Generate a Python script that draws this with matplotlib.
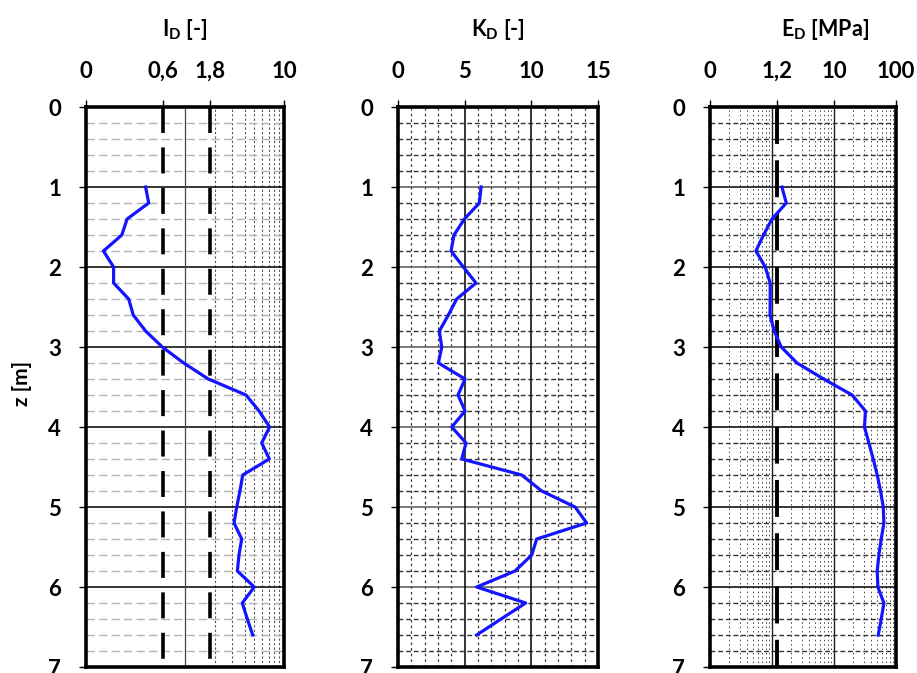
import matplotlib
matplotlib.use('Agg')
import matplotlib.pyplot as plt
from matplotlib.ticker import FixedLocator, NullFormatter

plt.rcParams['font.family'] = ['Lato', 'DejaVu Sans']
plt.rcParams['font.weight'] = 'bold'
plt.rcParams['mathtext.fontset'] = 'custom'
plt.rcParams['mathtext.rm'] = 'Lato:bold'
plt.rcParams['mathtext.bf'] = 'Lato:bold'

# depth of each reading [m]
depth = [1.0, 1.2, 1.4, 1.6, 1.8, 2.0, 2.2, 2.4, 2.6, 2.8,
         3.0, 3.2, 3.4, 3.6, 3.8, 4.0, 4.2, 4.4, 4.6, 4.8,
         5.0, 5.2, 5.4, 5.6, 5.8, 6.0, 6.2, 6.4, 6.6]

# material index
I_D = [0.40, 0.43, 0.26, 0.23, 0.15, 0.19, 0.19, 0.27, 0.30, 0.40,
       0.59, 0.97, 1.72, 4.13, 5.6, 7.15, 5.95, 7.11, 3.83, 3.59,
       3.33, 3.13, 3.74, 3.51, 3.38, 5.01, 3.79, 4.26, 4.83]

# horizontal stress index
K_D = [6.23, 6.1, 4.98, 4.2, 3.98, 4.9, 5.85, 4.4, 3.78, 3.1,
       3.28, 3.03, 5.03, 4.5, 5.03, 4.03, 5.1, 4.78, 9.28, 10.78,
       13.28, 14.15, 10.4, 10.03, 8.78, 5.9, 9.58, 7.73, 5.9]

# dilatometer modulus [MPa]
E_D = [1.445, 1.70, 1.0, 0.73, 0.55, 0.78, 0.935, 0.935, 0.93, 1.086,
       1.41, 2.53, 6.81, 19.6, 32.2, 31.0, 36.5, 42.9, 49.8, 56.3,
       62.3, 63.8, 57.8, 52.9, 49.8, 51.0, 63.8, 57.8, 51.7]

# limits / thresholds
ID_lines = [0.6, 1.8]
ED_line = 1.2

ID_ticks = [0.1, 0.6, 1.8, 10]
ID_labels = ['0', '0,6', '1,8', '10']
KD_ticks = [0, 5, 10, 15]
KD_labels = ['0', '5', '10', '15']
ED_ticks = [0.1, 1.2, 10, 100]
ED_labels = ['0', '1,2', '10', '100']
z_ticks = [0, 1, 2, 3, 4, 5, 6, 7]
z_minor = [0.2, 0.4, 0.6, 0.8, 1.2, 1.4, 1.6, 1.8, 2.2, 2.4, 2.6, 2.8,
           3.2, 3.4, 3.6, 3.8, 4.2, 4.4, 4.6, 4.8, 5.2, 5.4, 5.6, 5.8,
           6.2, 6.4, 6.6, 6.8]

fig = plt.figure(figsize=(9.17, 6.73), dpi=100)
W, H = 917.0, 673.0
bot = (H - 667) / H
hgt = 560 / H
ax1 = fig.add_axes([86 / W, bot, 198 / W, hgt])
ax2 = fig.add_axes([398 / W, bot, 200 / W, hgt])
ax3 = fig.add_axes([710 / W, bot, 186 / W, hgt])


def common(ax, hcol, hls, majcol):
    ax.set_ylim(7, 0)
    ax.set_yticks(z_ticks)
    ax.yaxis.set_minor_locator(FixedLocator(z_minor))
    ax.xaxis.tick_top()
    ax.tick_params(axis='x', which='major', direction='out', length=5,
                   width=1, pad=13, labelsize=16)
    ax.tick_params(axis='y', which='major', direction='out', length=5,
                   width=1, pad=13, labelsize=16)
    ax.tick_params(which='minor', length=0)
    ax.grid(which='minor', axis='y', color=hcol, linestyle=hls, linewidth=1.0)
    ax.grid(which='major', axis='y', color=majcol, linestyle='-', linewidth=1.1)
    ax.set_axisbelow(True)
    for s in ax.spines.values():
        s.set_linewidth(2.6)
        s.set_zorder(5)


# ---- I_D
common(ax1, '#b4b4b4', (0, (6, 3)), 'black')
ax1.set_xscale('log')
ax1.set_xlim(0.1, 10)
ax1.set_xticks(ID_ticks)
ax1.set_xticklabels(ID_labels)
ax1.xaxis.set_minor_locator(FixedLocator([2, 3, 4, 5, 6, 7, 8, 9]))
ax1.xaxis.set_minor_formatter(NullFormatter())
ax1.grid(which='minor', axis='x', color='#555555', linestyle=(0, (2, 2)), linewidth=0.8)
ax1.axvline(1, color='#444444', linewidth=0.9, zorder=1)
for v in ID_lines:
    ax1.plot([v, v], [0, 7], color='black', linewidth=2.6,
             linestyle=(0, (7.2, 4.0)), zorder=3)
ax1.plot(I_D, depth, color='#1414ff', linewidth=2.3, zorder=4)

# ---- K_D
common(ax2, '#333333', (0, (3.5, 2)), '#555555')
ax2.set_xlim(0, 15)
ax2.set_xticks(KD_ticks)
ax2.set_xticklabels(KD_labels)
ax2.xaxis.set_minor_locator(FixedLocator([1, 2, 3, 4, 6, 7, 8, 9, 11, 12, 13, 14]))
ax2.grid(which='minor', axis='x', color='#333333', linestyle=(0, (2, 2.5)), linewidth=0.9)
ax2.axvline(5, color='black', linewidth=1.1, zorder=1)
ax2.axvline(10, color='black', linewidth=1.1, zorder=1)
ax2.plot(K_D, depth, color='#1414ff', linewidth=2.3, zorder=4)

# ---- E_D
common(ax3, '#333333', (0, (3.5, 2)), 'black')
ax3.set_xscale('log')
ax3.set_xlim(0.1, 100)
ax3.set_xticks(ED_ticks)
ax3.set_xticklabels(ED_labels)
ed_minor = [m * d for d in (0.1, 1, 10) for m in (2, 3, 4, 5, 6, 7, 8, 9)]
ax3.xaxis.set_minor_locator(FixedLocator(ed_minor))
ax3.xaxis.set_minor_formatter(NullFormatter())
ax3.grid(which='minor', axis='x', color='#444444', linestyle=(0, (1.5, 3)), linewidth=0.7)
ax3.axvline(1, color='#222222', linewidth=1.0, zorder=1)
ax3.axvline(10, color='#222222', linewidth=1.0, zorder=1)
ax3.plot([ED_line, ED_line], [0, 7], color='black', linewidth=2.8,
         linestyle=(0, (9.5, 4.2)), zorder=3)
ax3.plot(E_D, depth, color='#1414ff', linewidth=2.3, zorder=4)

# titles
title_y = 1 + 77 / 560
ax1.text(0.5, title_y, r'I$_{\mathrm{D}}$ [-]', transform=ax1.transAxes,
         ha='center', va='center', fontsize=15.5, fontweight='bold')
ax2.text(0.5, title_y, r'K$_{\mathrm{D}}$ [-]', transform=ax2.transAxes,
         ha='center', va='center', fontsize=15.5, fontweight='bold')
ax3.text(0.62, title_y, r'E$_{\mathrm{D}}$ [MPa]', transform=ax3.transAxes,
         ha='center', va='center', fontsize=15.5, fontweight='bold')

fig.text(22 / W, 1 - 383 / H, 'z [m]', rotation=90, ha='center', va='center',
         fontsize=15, fontweight='bold')

fig.savefig('out.png', dpi=100)
